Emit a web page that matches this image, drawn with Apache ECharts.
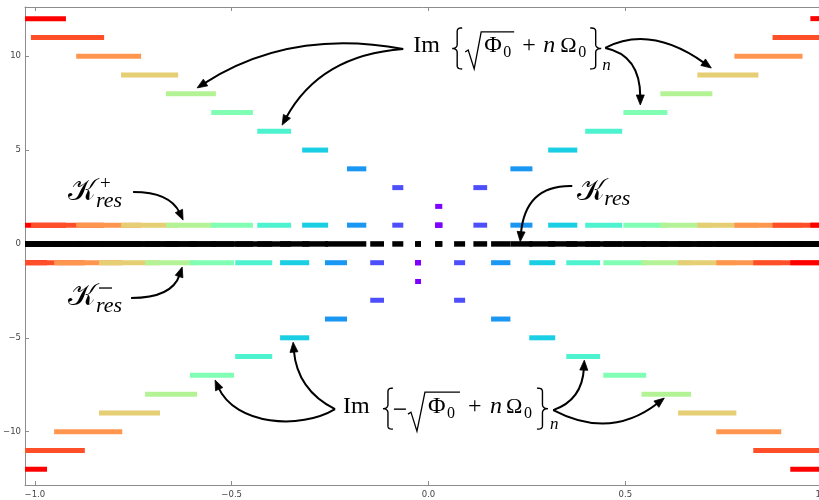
<!DOCTYPE html>
<html><head><meta charset="utf-8">
<script src="https://cdn.jsdelivr.net/npm/echarts@6/dist/echarts.min.js"></script>
<style>html,body{margin:0;padding:0;background:#fff}#c{width:819px;height:500px}</style>
</head><body><div id="c"></div>
<script>
// ---- data ----
// upper branch  Im{ sqrt(Phi0) + n Omega0 }_n : level n, segment start/end on x
const upperLevel = [12, 11, 10, 9, 8, 7, 6, 5, 4, 3, 2, 1, 3, 4, 5, 6, 7, 8, 9, 10, 11, 12];
const upperStart = [-1.040, -1.010, -0.895, -0.781, -0.667, -0.552, -0.435, -0.321, -0.207, -0.092, 0.017, 0.017, 0.114, 0.208, 0.304, 0.398, 0.495, 0.589, 0.683, 0.777, 0.874, 0.970];
const upperEnd   = [-0.921, -0.824, -0.730, -0.636, -0.540, -0.446, -0.349, -0.255, -0.158, -0.064, 0.035, 0.035, 0.149, 0.264, 0.378, 0.492, 0.607, 0.721, 0.838, 0.950, 1.070, 1.070];
// lower branch  Im{ -sqrt(Phi0) + n Omega0 }_n
const lowerLevel = [-12, -11, -10, -9, -8, -7, -6, -5, -4, -3, -2, -1, -3, -4, -5, -6, -7, -8, -9, -10, -11, -12];
const lowerStart = [-1.060, -1.035, -0.951, -0.837, -0.720, -0.606, -0.491, -0.377, -0.263, -0.148, -0.034, -0.034, 0.065, 0.159, 0.256, 0.350, 0.444, 0.541, 0.634, 0.731, 0.825, 0.919];
const lowerEnd   = [-0.969, -0.873, -0.778, -0.682, -0.588, -0.494, -0.397, -0.303, -0.207, -0.113, -0.019, -0.019, 0.093, 0.208, 0.322, 0.436, 0.553, 0.667, 0.782, 0.896, 1.070, 1.070];
const xTicks = [-1.0, -0.5, 0.0, 0.5, 1.0];
const yTicks = [-10, -5, 0, 5, 10];

// ---- styles ----
const levelColors = {1:'#8000ff',2:'#8000ff',3:'#4d4ffc',4:'#1a96f3',5:'#1acee3',6:'#4df3ce',7:'#80ffb4',8:'#b3f396',9:'#e6ce74',10:'#ff964f',11:'#ff4f28',12:'#ff0000'};
const XMIN = -1.025, XMAX = 1.025, YMIN = -12.84, YMAX = 12.62;

function build(levels, starts, ends){
  return levels.map((n,i)=>({n, x0:starts[i], x1:ends[i]}));
}
const segs = build(upperLevel, upperStart, upperEnd).concat(build(lowerLevel, lowerStart, lowerEnd));
const ownRows = segs.map(s => [s.x0, s.x1, s.n, Math.abs(s.n)]);
const projRows = segs.slice().sort((a,b)=>a.x0-b.x0).map(s => [s.x0, s.x1, Math.sign(s.n), Math.abs(s.n)]);
const zeroRow = segs.map(s => [s.x0, s.x1, 0, 0]);

function segSeries(name, data, colorFn, width){
  return {
    type:'custom', name, coordinateSystem:'cartesian2d', silent:true, clip:true, data,
    encode:{x:[0,1], y:2},
    renderItem:(params, api)=>{
      const x0 = Math.max(api.value(0), XMIN), x1 = Math.min(api.value(1), XMAX), y = api.value(2);
      const a = api.coord([x0,y]), b = api.coord([x1,y]);
      return {type:'line', shape:{x1:a[0],y1:a[1],x2:b[0],y2:b[1]},
              style:{stroke:colorFn(api.value(3)), lineWidth:width, lineCap:'butt'}};
    }
  };
}
function fmt(v,d){ return (v<0?'\u2212':'') + Math.abs(v).toFixed(d); }

const axisLineStyle = {color:'#8c8c8c', width:1};
const chart = echarts.init(document.getElementById('c'), null, {renderer:'canvas'});
chart.setOption({
  animation:false,
  backgroundColor:'#fff',
  grid:{left:25, top:7, width:807, height:478, containLabel:false, outerBoundsMode:'none'},
  xAxis:[
    {type:'value', min:XMIN, max:XMAX, position:'bottom',
     axisLine:{show:true, onZero:false, lineStyle:axisLineStyle},
     axisTick:{show:true, inside:true, length:4, customValues:xTicks, lineStyle:axisLineStyle},
     axisLabel:{customValues:xTicks, formatter:v=>fmt(v,1), fontSize:8.5, color:'#444', fontFamily:'DejaVu Sans', margin:5},
     splitLine:{show:false}},
    {type:'value', min:XMIN, max:XMAX, position:'top',
     axisLine:{show:true, onZero:false, lineStyle:axisLineStyle},
     axisTick:{show:true, inside:true, length:4, customValues:xTicks, lineStyle:axisLineStyle},
     axisLabel:{show:false}, splitLine:{show:false}}
  ],
  yAxis:[
    {type:'value', min:YMIN, max:YMAX,
     axisLine:{show:true, onZero:false, lineStyle:axisLineStyle},
     axisTick:{show:true, inside:true, length:4, customValues:yTicks, lineStyle:axisLineStyle},
     axisLabel:{customValues:yTicks, formatter:v=>fmt(v,0), fontSize:8.5, color:'#444', fontFamily:'DejaVu Sans', margin:4},
     splitLine:{show:false}}
  ],
  series:[
    segSeries('levels', ownRows, l=>levelColors[l], 5),
    segSeries('projections', projRows, l=>levelColors[l], 5),
    segSeries('zero', zeroRow, ()=>'#000', 5.5)
  ]
});

// ---- annotations (data coordinates) ----
const arrows = [
  [[-0.0643,10.38],[-0.3515,11.50],[-0.5878,8.31]],
  [[-0.0643,10.38],[-0.2752,10.06],[-0.3718,6.33]],
  [[0.4490,10.44],[0.5634,11.69],[0.7184,9.37]],
  [[0.4490,10.44],[0.5380,10.06],[0.5380,7.40]],
  [[-0.7504,2.77],[-0.6564,2.77],[-0.6234,1.27]],
  [[-0.7555,-2.88],[-0.6513,-2.88],[-0.6257,-1.23]],
  [[0.3652,3.08],[0.2457,3.14],[0.2330,0.12]],
  [[-0.2374,-8.80],[-0.3337,-7.78],[-0.3439,-5.23]],
  [[-0.2374,-8.80],[-0.3261,-9.91],[-0.4912,-9.65],[-0.5421,-7.25]],
  [[0.3169,-8.85],[0.3906,-8.32],[0.3958,-6.19]],
  [[0.3169,-8.85],[0.4617,-10.45],[0.5990,-8.21]]
];
const SERIF = '"Liberation Serif", "DejaVu Serif", serif';
const KCAL = '\uD835\uDCA6';
const labels = [
  {at:[-0.0389,10.12],
   texts:[['Im',0,0,24,false],['\u03A6',71,0,24,false],['0',90,4,16,false],['+',109,0,24,false],['n',130,0,24,true],['\u03A9',147,0,22,false],['0',165,4,16,false],['n',189,17,17,true]],
   braces:[['L',39,-26,10,41],['R',177,-26,11,41]],
   radical:[[52,-2],[55,-4],[61,15],[68,-22],[101,-22]]},
  {at:[-0.2173,-9.12],
   texts:[['Im',0,0,24,false],['\u03A6',85,0,24,false],['0',104,4,16,false],['+',125,0,24,false],['n',147,0,24,true],['\u03A9',163,0,22,false],['0',181,4,16,false],['n',207,15,17,true]],
   rules:[[51,-6,63,1.4]],
   braces:[['L',40,-27,10,41],['R',194,-27,11,41]],
   radical:[[65,-1],[68,-3],[74,16],[82,-23],[117,-23]]},
  {at:[-0.9157,2.23], texts:[[KCAL,0,0,30,false],['+',32,-12,19,false],['res',28,7,22,true]]},
  {at:[-0.9157,-3.36], texts:[[KCAL,0,0,30,false],['res',28,7,22,true]], rules:[[31,-19,44,1.3]]},
  {at:[0.3779,2.23], texts:[[KCAL,0,0,30,false],['res',27,5,22,true]]}
];

function px(p){ return chart.convertToPixel({xAxisIndex:0, yAxisIndex:0}, p); }
function cubicPts(p0,p1,p2,p3,n){
  const out=[];
  for(let i=0;i<=n;i++){
    const t=i/n, u=1-t;
    out.push([u*u*u*p0[0]+3*u*u*t*p1[0]+3*u*t*t*p2[0]+t*t*t*p3[0], u*u*u*p0[1]+3*u*u*t*p1[1]+3*u*t*t*p2[1]+t*t*t*p3[1]]);
  }
  return out;
}
function bracePoints(side, x, y, w, h){
  const m = h/2;
  const P = (a,b) => [side==='L' ? x + a : x + w - a, y + b];
  let pts = [];
  pts = pts.concat(cubicPts(P(w,0), P(w*0.45,0), P(w*0.5,h*0.05), P(w*0.5,h*0.15), 10));
  pts = pts.concat(cubicPts(P(w*0.5,m-h*0.1), P(w*0.5,m-h*0.02), P(w*0.2,m), P(0,m), 10));
  pts = pts.concat(cubicPts(P(0,m), P(w*0.2,m), P(w*0.5,m+h*0.02), P(w*0.5,m+h*0.1), 10));
  pts = pts.concat(cubicPts(P(w*0.5,h*0.85), P(w*0.5,h*0.95), P(w*0.45,h), P(w,h), 10));
  return pts;
}
const g = [];
arrows.forEach(a=>{
  const P = a.map(px);
  const E = P[P.length-1], C = P[P.length-2];
  let dx = E[0]-C[0], dy = E[1]-C[1]; const L = Math.hypot(dx,dy); dx/=L; dy/=L;
  const HL = 10, HW = 4;
  const B = [E[0]-dx*HL, E[1]-dy*HL];
  const shape = {x1:P[0][0], y1:P[0][1], x2:B[0]+dx*2, y2:B[1]+dy*2, cpx1:P[1][0], cpy1:P[1][1]};
  if (P.length === 4){ shape.cpx2 = P[2][0]; shape.cpy2 = P[2][1]; }
  g.push({type:'bezierCurve', z:100, silent:true, shape, style:{stroke:'#000', lineWidth:2, fill:null}});
  g.push({type:'polygon', z:101, silent:true, shape:{points:[E,[B[0]-dy*HW,B[1]+dx*HW],[B[0]+dy*HW,B[1]-dx*HW]]}, style:{fill:'#000', stroke:'#000', lineWidth:0.8}});
});
labels.forEach(lb=>{
  const A = px(lb.at);
  lb.texts.forEach(t=>{
    const [txt, dx, dy, size, it] = t;
    g.push({type:'text', z:100, silent:true, x:A[0]+dx, y:A[1]+dy-0.34*size,
      style:{text:txt, font:(it?'italic ':'')+size+'px '+SERIF, fill:'#000',
             align:'left', textAlign:'left', verticalAlign:'middle', textVerticalAlign:'middle'}});
  });
  (lb.rules||[]).forEach(r=>{
    g.push({type:'line', z:100, silent:true, shape:{x1:A[0]+r[0], y1:A[1]+r[1], x2:A[0]+r[2], y2:A[1]+r[1]},
      style:{stroke:'#000', lineWidth:r[3]}});
  });
  (lb.braces||[]).forEach(b=>{
    g.push({type:'polyline', z:100, silent:true, shape:{points:bracePoints(b[0], A[0]+b[1], A[1]+b[2], b[3], b[4])},
      style:{stroke:'#000', fill:null, lineWidth:1.4}});
  });
  if (lb.radical){
    g.push({type:'polyline', z:100, silent:true, shape:{points:lb.radical.map(p=>[A[0]+p[0], A[1]+p[1]])},
      style:{stroke:'#000', fill:null, lineWidth:1.3}});
  }
});
chart.setOption({graphic:{elements:g}});
</script></body></html>
